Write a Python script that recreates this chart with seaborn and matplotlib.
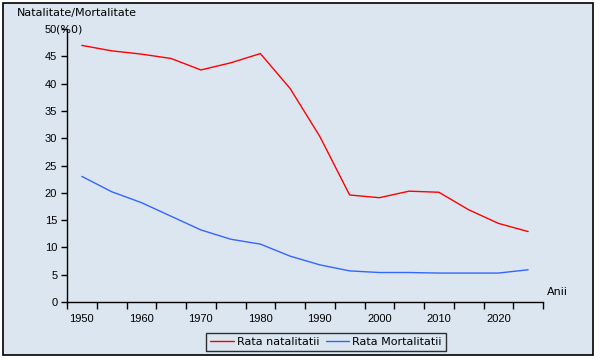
import matplotlib
matplotlib.use('Agg')
import matplotlib.pyplot as plt
import matplotlib.patches as mpatches
import matplotlib.transforms as mtransforms
import seaborn as sns
import pandas as pd

# values
ani = [1950, 1955, 1960, 1965, 1970, 1975, 1980, 1985,
       1990, 1995, 2000, 2005, 2010, 2015, 2020, 2025]
natalitate = [47.0, 46.0, 45.4, 44.6, 42.5, 43.8, 45.5, 39.1,
              30.3, 19.6, 19.1, 20.3, 20.1, 16.9, 14.4, 12.9]
mortalitate = [23.0, 20.2, 18.2, 15.7, 13.2, 11.5, 10.6, 8.4,
               6.8, 5.7, 5.4, 5.4, 5.3, 5.3, 5.3, 5.9]
serii = ['Rata natalitatii', 'Rata Mortalitatii']
culori = ['#ff0000', '#3366ff']

bg = '#dce6f0'
txt_font = ['DejaVu Sans']

df = pd.DataFrame({'an': ani, serii[0]: natalitate, serii[1]: mortalitate})
df['poz'] = range(len(df))
long_df = df.melt(id_vars=['an', 'poz'], value_vars=serii,
                  var_name='serie', value_name='rata')

sns.set_style('white')
plt.rcParams['font.family'] = ['Liberation Sans', 'DejaVu Sans']
plt.rcParams['text.color'] = 'black'
plt.rcParams['xtick.color'] = 'black'
plt.rcParams['ytick.color'] = 'black'
plt.rcParams['axes.labelcolor'] = 'black'

fig = plt.figure(figsize=(6, 3.6), dpi=100)
fig.patch.set_facecolor('white')
fig.patches.append(mpatches.Rectangle((3 / 600, 5 / 360), 590 / 600, 352 / 360,
                                      transform=fig.transFigure, facecolor=bg,
                                      edgecolor='black', linewidth=1.2, zorder=-10))

ax = fig.add_axes([67 / 600, 1 - 302 / 360, 476 / 600, 273 / 360])
ax.set_facecolor(bg)
ax.patch.set_alpha(0)

sns.lineplot(data=long_df, x='poz', y='rata', hue='serie', palette=culori,
             linewidth=1.0, ax=ax, legend=False)

n = len(ani)
ax.set_xlim(-0.5, n - 0.5)
ax.set_ylim(0, 50)

# category axis: tick marks between categories, labels on every other year
ax.set_xticks([i - 0.5 for i in range(n + 1)])
ax.set_xticklabels([])
ax.set_xticks(list(range(0, n, 2)), minor=True)
ax.set_xticklabels([str(a) for a in ani[::2]], minor=True)
ax.tick_params(axis='x', which='major', bottom=True, direction='out', length=5,
               width=1, color='black')
ax.tick_params(axis='x', which='minor', bottom=True, length=0, pad=9, labelsize=8,
               labelcolor='black')

yt = list(range(0, 51, 5))
ax.set_yticks(yt)
ax.set_yticklabels([str(v) for v in yt])
ax.tick_params(axis='y', left=True, direction='out', length=4, width=1, color='black',
               labelsize=8, pad=3, labelcolor='black')

for s in ['top', 'right']:
    ax.spines[s].set_visible(False)
for s in ['left', 'bottom']:
    ax.spines[s].set_color('black')
    ax.spines[s].set_linewidth(1)

ax.set_xlabel('')
ax.set_ylabel('')

tr = mtransforms.blended_transform_factory(fig.transFigure, ax.transData)
ax.text(56 / 600, 50, '(%0)', fontsize=8, va='center_baseline', ha='left',
        transform=tr, family=txt_font, clip_on=False, color='black')
fig.text(17 / 600, 1 - 13 / 360, 'Natalitate/Mortalitate', fontsize=8, va='center',
         ha='left', family=txt_font, color='black')
fig.text(547 / 600, 1 - 292 / 360, 'Anii', fontsize=8, va='center', ha='left',
         family=txt_font, color='black')

handles = [plt.Line2D([], [], color=c, linewidth=1.0) for c in culori]
leg = fig.legend(handles, serii, loc='center', bbox_to_anchor=(326 / 600, 1 - 342 / 360),
                 ncol=2, frameon=True, fancybox=False, handlelength=2.1,
                 handletextpad=0.3, columnspacing=0.55, borderpad=0.35,
                 prop={'family': txt_font, 'size': 8})
leg.get_frame().set_edgecolor('black')
leg.get_frame().set_linewidth(1)
leg.get_frame().set_facecolor(bg)
for t in leg.get_texts():
    t.set_color('black')

fig.savefig('out.png', dpi=100, facecolor='white')
